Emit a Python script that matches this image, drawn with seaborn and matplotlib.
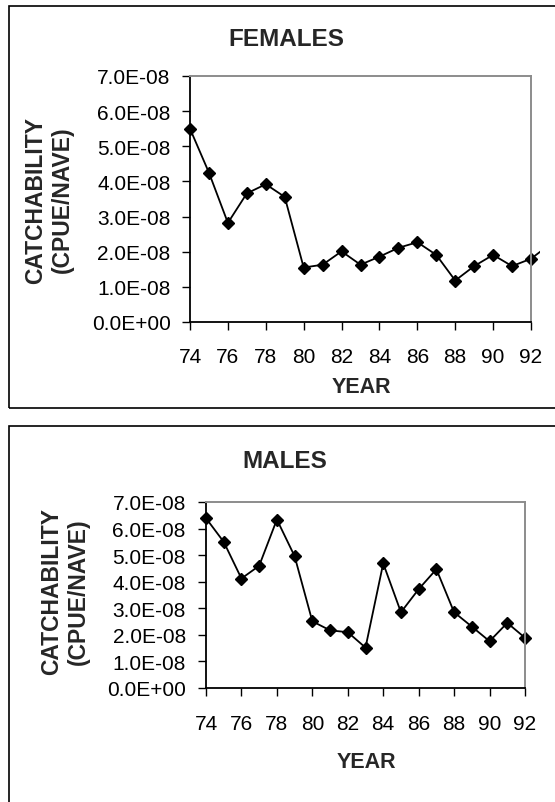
import numpy as np
import pandas as pd
import matplotlib
matplotlib.use("Agg")
import matplotlib.pyplot as plt
import seaborn as sns
from matplotlib.ticker import FuncFormatter, MultipleLocator
from matplotlib.patches import Rectangle

# data (units of 1e-8)
years_f = [74, 75, 76, 77, 78, 79, 80, 81, 82, 83, 84, 85, 86, 87, 88, 89, 90, 91, 92, 93]
females = [5.5, 4.25, 2.82, 3.66, 3.92, 3.56, 1.55, 1.63, 2.01, 1.63, 1.86, 2.11, 2.27,
           1.91, 1.18, 1.59, 1.91, 1.59, 1.80, 2.21]
years_m = [74, 75, 76, 77, 78, 79, 80, 81, 82, 83, 84, 85, 86, 87, 88, 89, 90, 91, 92]
males = [6.39, 5.5, 4.12, 4.6, 6.34, 4.96, 2.51, 2.17, 2.1, 1.52, 4.69, 2.85, 3.72,
         4.47, 2.85, 2.31, 1.76, 2.45, 1.89]

df_f = pd.DataFrame({"year": years_f, "q": np.array(females) * 1e-8})
df_m = pd.DataFrame({"year": years_m, "q": np.array(males) * 1e-8})

sns.set_style("white")
plt.rcParams["font.family"] = ["Liberation Sans", "DejaVu Sans"]

W, H = 555, 803
fig = plt.figure(figsize=(W / 100, H / 100), dpi=100)


def px(x, y):
    # pixel coords (top-left origin) -> figure fraction
    return x / W, 1 - y / H


# outer chart boxes (run off the right / bottom edge like the reference)
fig.patches.append(Rectangle(px(9, 409), 600 / W, 402 / H, transform=fig.transFigure,
                             fill=False, ec="black", lw=1.2))
fig.patches.append(Rectangle(px(9, 900), 600 / W, 473 / H, transform=fig.transFigure,
                             fill=False, ec="black", lw=1.2))


def panel(rect, data, title, tpos, ypos, xpos, xpad, ypad, clip_right=9):
    l, t, r, b = rect
    ax = fig.add_axes([l / W, 1 - b / H, (r - l) / W, (b - t) / H])
    sns.lineplot(data=data, x="year", y="q", ax=ax, color="black", lw=1.3,
                 marker="D", markersize=6.5, markeredgecolor="black", markeredgewidth=1)
    # let markers sit on the frame; series may run a little past the right edge
    clip = Rectangle((l - 15, H - b - 15), r - l + 15 + clip_right, b - t + 30,
                     transform=None, fill=False, visible=False)
    for ln in ax.lines:
        ln.set_clip_on(True)
        ln.set_clip_path(clip)
    ax.set_xlim(74, 92)
    ax.set_ylim(0, 7e-8)
    ax.xaxis.set_major_locator(MultipleLocator(2))
    ax.yaxis.set_major_locator(MultipleLocator(1e-8))
    ax.yaxis.set_major_formatter(FuncFormatter(lambda v, p: f"{v:.1E}"))
    ax.xaxis.set_major_formatter(FuncFormatter(lambda v, p: f"{int(round(v))}"))
    ax.tick_params(axis="both", direction="out", length=6, width=1, color="black",
                   labelsize=15, labelcolor="black")
    ax.tick_params(axis="x", pad=xpad)
    ax.tick_params(axis="y", pad=ypad)
    ax.xaxis.set_ticks_position("bottom")
    ax.yaxis.set_ticks_position("left")
    for s in ["left", "bottom"]:
        ax.spines[s].set_color("black")
        ax.spines[s].set_linewidth(1.3)
    for s in ["top", "right"]:
        ax.spines[s].set_color("#8c8c8c")
        ax.spines[s].set_linewidth(1.4)
    ax.set_xlabel("")
    ax.set_ylabel("")
    fig.text(*px(*tpos), title, ha="center", va="center", fontsize=17.5, fontweight="bold")
    fig.text(*px(*ypos), "CATCHABILITY\n(CPUE/NAVE)", ha="center", va="center",
             rotation=90, fontsize=16.5, fontweight="bold", linespacing=1.2)
    fig.text(*px(*xpos), "YEAR", ha="center", va="center", fontsize=15.5, fontweight="bold")
    return ax


panel((190, 77, 531, 323), df_f, "FEMALES", (286, 40), (49, 200), (361, 388),
      xpad=12, ypad=8, clip_right=9)
panel((206, 503, 525, 689), df_m, "MALES", (285, 462), (65, 592), (366, 763),
      xpad=13, ypad=8.5, clip_right=15)

fig.savefig("out.png", dpi=100)
